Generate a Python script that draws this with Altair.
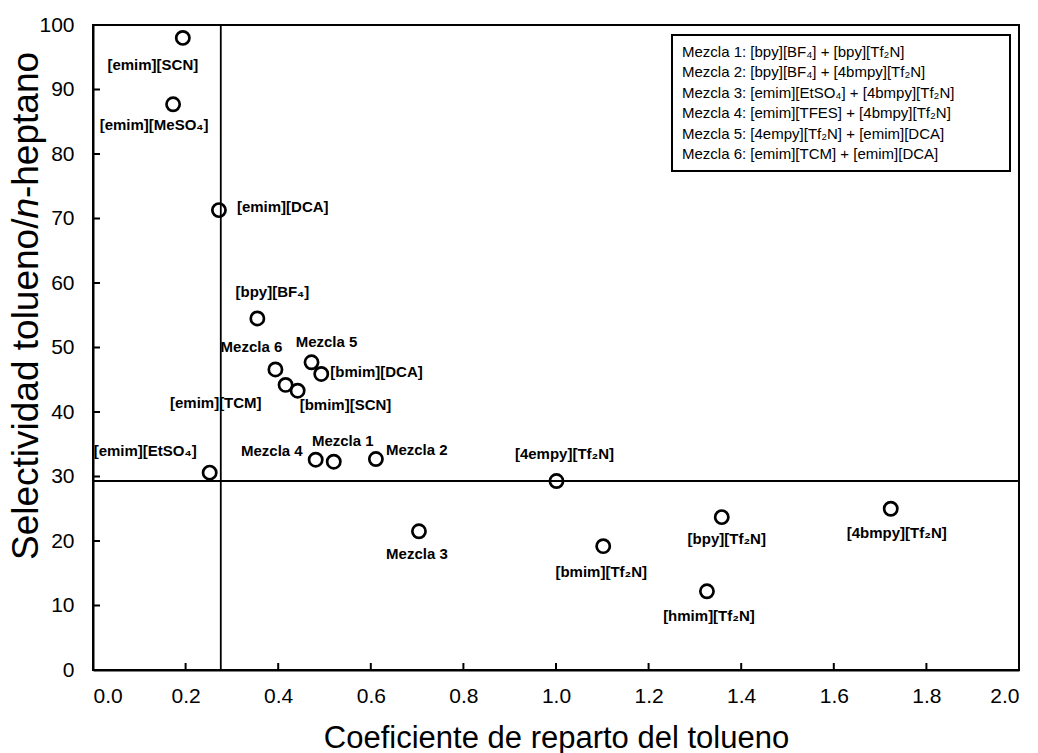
import altair as alt
import pandas as pd

# Ionic liquids and mixtures: toluene distribution ratio vs toluene/n-heptane selectivity
names = [
    "[emim][SCN]", "[emim][MeSO₄]", "[emim][DCA]", "[bpy][BF₄]",
    "Mezcla 6", "[emim][TCM]", "[bmim][SCN]", "Mezcla 5", "[bmim][DCA]",
    "[emim][EtSO₄]", "Mezcla 4", "Mezcla 1", "Mezcla 2", "Mezcla 3",
    "[4empy][Tf₂N]", "[bmim][Tf₂N]", "[bpy][Tf₂N]", "[hmim][Tf₂N]",
    "[4bmpy][Tf₂N]",
]
coef = [0.194, 0.173, 0.272, 0.355, 0.394, 0.416, 0.442, 0.472, 0.493,
        0.252, 0.481, 0.520, 0.611, 0.704, 1.001, 1.102, 1.358, 1.326, 1.723]
selec = [98.0, 87.7, 71.3, 54.5, 46.6, 44.2, 43.3, 47.7, 45.9,
         30.6, 32.6, 32.3, 32.7, 21.5, 29.3, 19.2, 23.7, 12.2, 25.0]

# label placement relative to each marker: (dx, dy, align)
label_place = [
    (-30, 27, "center"), (-19, 21, "center"), (18, -3, "left"), (15, -26, "center"),
    (-24, -22, "center"), (-24, 18, "right"), (2, 14, "left"), (15, -20, "center"),
    (9, -2, "left"), (-13, -22, "right"), (-13, -9, "right"), (9, -21, "center"),
    (10, -9, "left"), (-2, 23, "center"), (8, -27, "center"), (-2, 26, "center"),
    (5, 22, "center"), (2, 25, "center"), (6, 24, "center"),
]

# reference lines
ref_coef = 0.276
ref_selec = 29.3

x_ticks = [round(0.2 * i, 1) for i in range(11)]
y_ticks = list(range(0, 101, 10))

legend_lines = [
    "Mezcla 1: [bpy][BF₄] + [bpy][Tf₂N]",
    "Mezcla 2: [bpy][BF₄] + [4bmpy][Tf₂N]",
    "Mezcla 3: [emim][EtSO₄] + [4bmpy][Tf₂N]",
    "Mezcla 4: [emim][TFES] + [4bmpy][Tf₂N]",
    "Mezcla 5: [4empy][Tf₂N] + [emim][DCA]",
    "Mezcla 6: [emim][TCM] + [emim][DCA]",
]

# y-axis title pieces (the "n" of n-heptano is italic)
y_title_parts = ["Selectividad tolueno/", "n", "-heptano"]
y_title_styles = ["normal", "italic", "normal"]

W, H = 926, 645
FONT = "Liberation Sans"
Y_TITLE_SIZE = 37
Y_TITLE_CENTER = 281

df = pd.DataFrame({"name": names, "coef": coef, "selec": selec})

xs = alt.Scale(domain=[0, 2], nice=False)
ys = alt.Scale(domain=[0, 100], nice=False)

x_axis = alt.Axis(values=x_ticks, format=".1f", ticks=False, grid=False,
                  labelFontSize=21, labelPadding=15, labelColor="black",
                  domainColor="black", domainWidth=2,
                  title="Coeficiente de reparto del tolueno",
                  titleFontSize=31, titleFontWeight="normal", titleColor="black",
                  titleY=77, titleBaseline="alphabetic",
                  labelFont=FONT, titleFont=FONT)
y_axis = alt.Axis(values=y_ticks, format="d", ticks=False, grid=False,
                  labelFontSize=21, labelPadding=19, labelColor="black",
                  domainColor="black", domainWidth=2, title="",
                  labelFont=FONT)

points = alt.Chart(df).mark_point(
    shape="circle", size=175, filled=False, stroke="black", strokeWidth=2.7, opacity=1
).encode(
    x=alt.X("coef:Q", scale=xs, axis=x_axis),
    y=alt.Y("selec:Q", scale=ys, axis=y_axis),
)

vline = alt.Chart(pd.DataFrame({"v": [ref_coef]})).mark_rule(
    color="black", strokeWidth=1.8
).encode(x=alt.X("v:Q", scale=xs))
hline = alt.Chart(pd.DataFrame({"v": [ref_selec]})).mark_rule(
    color="black", strokeWidth=1.8
).encode(y=alt.Y("v:Q", scale=ys))

# inward tick marks
xtick_marks = alt.Chart(pd.DataFrame({"t": x_ticks})).mark_rule(
    color="black", strokeWidth=2
).encode(x=alt.X("t:Q", scale=xs), y=alt.value(H), y2=alt.value(H - 7))
ytick_marks = alt.Chart(pd.DataFrame({"t": y_ticks})).mark_rule(
    color="black", strokeWidth=2
).encode(y=alt.Y("t:Q", scale=ys), x=alt.value(0), x2=alt.value(7))

labels = []
for n, (dx, dy, al) in zip(names, label_place):
    labels.append(
        alt.Chart(df).transform_filter(alt.datum.name == n).mark_text(
            dx=dx, dy=dy, align=al, baseline="middle", font=FONT,
            fontSize=15, fontWeight="bold", color="black"
        ).encode(x=alt.X("coef:Q", scale=xs), y=alt.Y("selec:Q", scale=ys),
                 text="name:N")
    )

one = pd.DataFrame({"k": [0]})
legend_box = alt.Chart(one).mark_rect(
    fill="white", stroke="black", strokeWidth=2
).encode(x=alt.value(579), x2=alt.value(917), y=alt.value(10), y2=alt.value(146))
legend_text = alt.Chart(one).mark_text(
    align="left", baseline="middle", font=FONT, fontSize=15,
    lineHeight=20.5, color="black"
).encode(x=alt.value(589), y=alt.value(26.7), text=alt.value(legend_lines))

# rotated y title, laid out piece by piece from Arial advance widths (1/1000 em)
ADV = {"S": 667, "e": 556, "l": 222, "c": 500, "t": 278, "i": 222, "v": 500,
       "d": 556, "a": 556, "y": 500, " ": 278, "o": 556, "u": 556, "n": 556,
       "/": 278, "-": 333, "h": 556, "p": 556}
widths = [sum(ADV[ch] for ch in part) * Y_TITLE_SIZE / 1000 for part in y_title_parts]
start = Y_TITLE_CENTER + sum(widths) / 2
y_title = []
for part, style, w in zip(y_title_parts, y_title_styles, widths):
    y_title.append(
        alt.Chart(one).mark_text(
            align="left", baseline="alphabetic", angle=270, font=FONT,
            fontSize=Y_TITLE_SIZE, fontStyle=style, color="black"
        ).encode(x=alt.value(-55), y=alt.value(start), text=alt.value(part))
    )
    start -= w

chart = alt.layer(
    vline, hline, xtick_marks, ytick_marks, points, *labels, legend_box,
    legend_text, *y_title
).properties(
    width=W, height=H,
    padding={"left": 93, "top": 25, "right": 19, "bottom": 83},
    autosize=alt.AutoSizeParams(type="none"),
    background="white",
).configure_view(stroke="black", strokeWidth=2)

chart.save("out.html", embed_options={"renderer": "svg", "actions": False})
